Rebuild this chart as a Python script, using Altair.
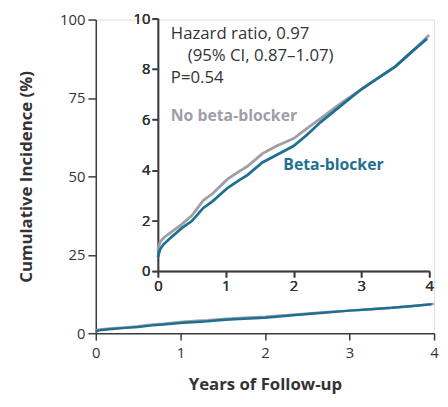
import altair as alt
import pandas as pd

# ---- data ----
GROUPS = ["No beta-blocker", "Beta-blocker"]
COLORS = ["#9e9ea6", "#1f6f93"]

YEARS_NO_BB = [0, 0.03, 0.1, 0.2, 0.35, 0.5, 0.67, 0.8, 1.03, 1.2, 1.32, 1.54,
               1.75, 2.0, 2.2, 2.4, 2.7, 3.0, 3.25, 3.5, 3.75, 4.0]
INC_NO_BB = [0.8, 1.15, 1.35, 1.55, 1.85, 2.2, 2.8, 3.05, 3.65, 3.95, 4.15, 4.65,
             4.95, 5.25, 5.65, 6.05, 6.65, 7.2, 7.65, 8.1, 8.7, 9.35]

YEARS_BB = [0, 0.03, 0.08, 0.16, 0.35, 0.5, 0.67, 0.8, 1.03, 1.2, 1.32, 1.54,
            1.75, 2.0, 2.2, 2.4, 2.7, 3.0, 3.25, 3.5, 3.75, 3.97]
INC_BB = [0.55, 0.85, 1.05, 1.25, 1.7, 1.98, 2.5, 2.75, 3.3, 3.6, 3.8, 4.3,
          4.6, 4.95, 5.4, 5.9, 6.55, 7.2, 7.65, 8.1, 8.7, 9.2]

MAIN_X_TICKS = [0, 1, 2, 3, 4]
MAIN_Y_TICKS = [0, 25, 50, 75, 100]
INSET_X_TICKS = [0, 1, 2, 3, 4]
INSET_Y_TICKS = [0, 2, 4, 6, 8, 10]

STAT_TEXT = ["Hazard ratio, 0.97", "(95% CI, 0.87\u20131.07)", "P=0.54"]
STAT_T = [0.19, 0.44, 0.19]
STAT_V = [9.38, 8.52, 7.66]

LABEL_TEXT = ["No beta-blocker", "Beta-blocker"]
LABEL_T = [0.19, 1.85]
LABEL_V = [6.13, 4.18]

# ---- tables ----
rows = []
for t, v in zip(YEARS_NO_BB, INC_NO_BB):
    rows.append({"t": t, "v": v, "group": GROUPS[0], "k": 0})
for t, v in zip(YEARS_BB, INC_BB):
    rows.append({"t": t, "v": v, "group": GROUPS[1], "k": 1})
df = pd.DataFrame(rows)

stats = pd.DataFrame({"text": STAT_TEXT, "t": STAT_T, "v": STAT_V})
labels = pd.DataFrame({"text": LABEL_TEXT, "t": LABEL_T, "v": LABEL_V,
                       "c": COLORS})

FONT = "Open Sans"
TXT = "#333333"
AX = "#3c3c3c"

color = alt.Color("group:N", scale=alt.Scale(domain=GROUPS, range=COLORS),
                  legend=None)

common_axis = dict(domainColor=AX, tickColor=AX, domainWidth=1.5, tickWidth=1.5,
                   labelColor=TXT, labelFont=FONT, labelFontSize=15,
                   grid=False, labelFlush=False)

# ---- main chart ----
main_x = alt.X("t:Q", scale=alt.Scale(domain=[0, 4], nice=False),
               axis=alt.Axis(values=MAIN_X_TICKS, title="Years of Follow-up",
                             tickSize=7, labelPadding=6, titlePadding=16,
                             titleFont=FONT, titleFontSize=17, titleFontWeight="bold",
                             titleColor=TXT, **common_axis))
main_y = alt.Y("v:Q", scale=alt.Scale(domain=[0, 100], nice=False),
               axis=alt.Axis(values=MAIN_Y_TICKS, title="Cumulative Incidence (%)",
                             tickSize=8, labelPadding=3, titlePadding=24,
                             titleFont=FONT, titleFontSize=17, titleFontWeight="bold",
                             titleColor=TXT, **common_axis))

main = alt.Chart(df).mark_line(strokeWidth=2.5).encode(
    x=main_x, y=main_y, color=color, order="t:Q")

# ---- inset (own scales, drawn inside the main plot area) ----
inset_x = alt.X("t:Q", scale=alt.Scale(domain=[0, 4], range=[63, 338], nice=False),
                axis=alt.Axis(values=INSET_X_TICKS, title=None,
                              orient=alt.ExprRef("'bottom'"), offset=-63,
                              tickSize=6, labelPadding=2, **common_axis))
inset_y = alt.Y("v:Q", scale=alt.Scale(domain=[0, 10], range=[255, -1], nice=False),
                axis=alt.Axis(values=INSET_Y_TICKS, title=None,
                              orient=alt.ExprRef("'left'"), offset=-63,
                              tickSize=6, labelPadding=2, **common_axis))

inset_lines = alt.Chart(df).mark_line(strokeWidth=2.8).encode(
    x=inset_x, y=inset_y, color=color, order="t:Q")

inset_stats = alt.Chart(stats).mark_text(
    align="left", baseline="middle", font=FONT, fontSize=17, color=TXT
).encode(x=inset_x, y=inset_y, text="text:N")

inset_labels = alt.Chart(labels).mark_text(
    align="left", baseline="middle", font=FONT, fontSize=16, fontWeight="bold"
).encode(x=inset_x, y=inset_y, text="text:N",
         color=alt.Color("c:N", scale=None))

inset = alt.layer(inset_lines, inset_stats, inset_labels)

chart = alt.layer(main, inset).resolve_scale(
    x="independent", y="independent", color="independent"
).properties(
    width=343, height=318,
    autosize=alt.AutoSizeParams(type="none"),
    padding={"left": 89, "top": 9, "right": 6, "bottom": 64},
).configure_view(stroke=None).configure(background="white")

chart.save("out.html", embed_options={"renderer": "svg", "actions": False})
